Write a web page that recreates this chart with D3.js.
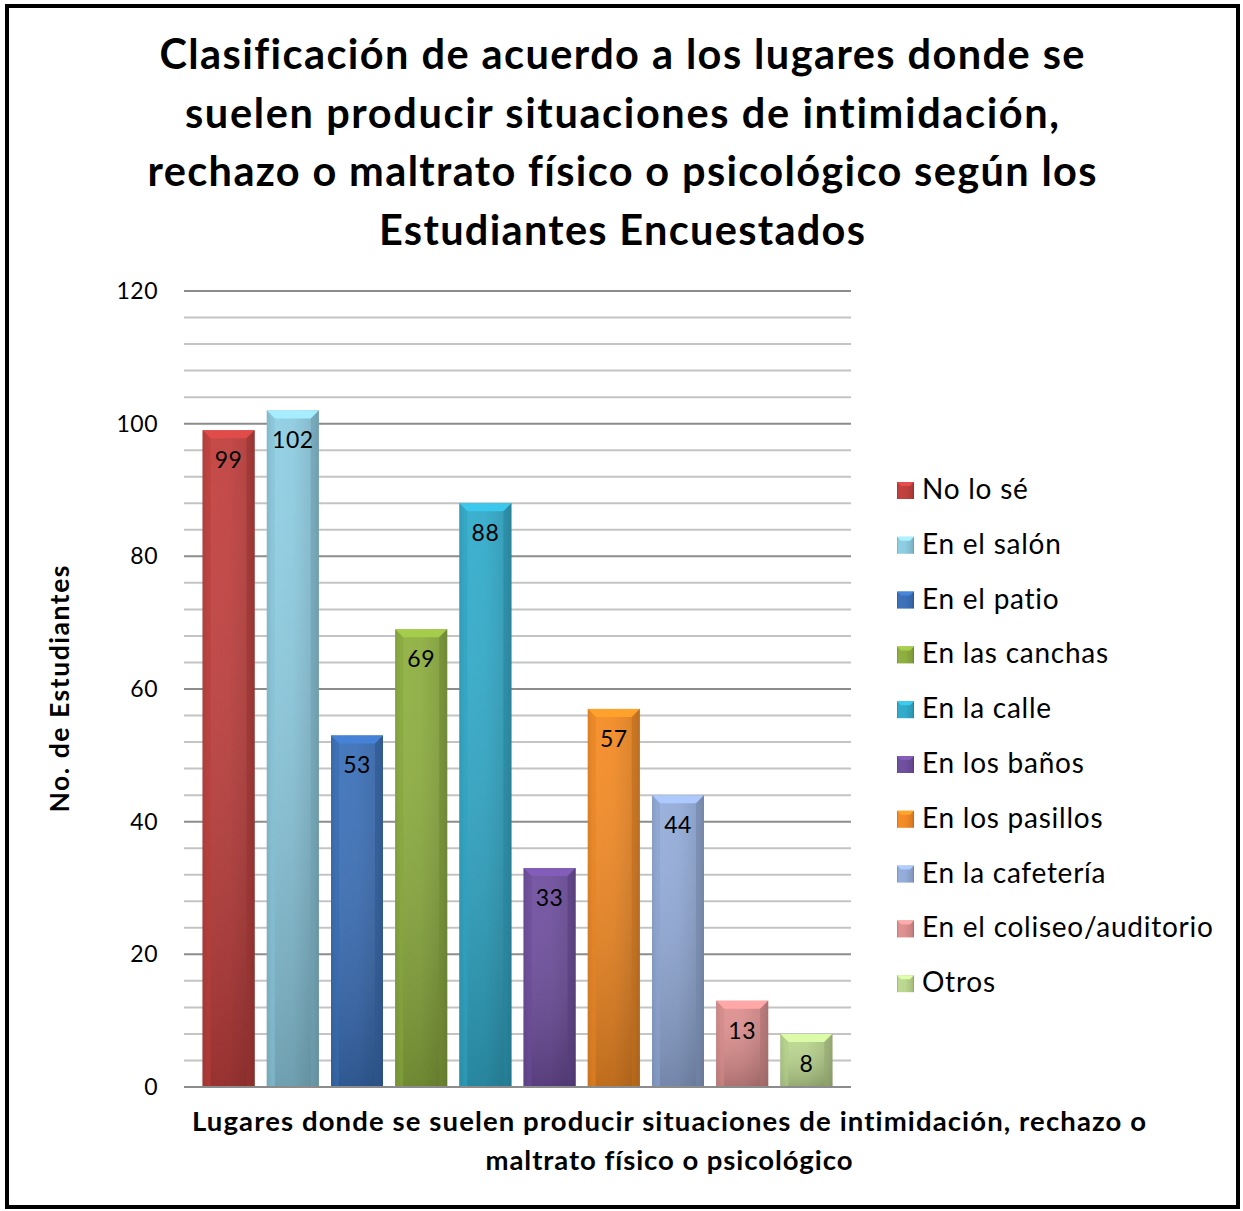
<!DOCTYPE html>
<html><head><meta charset="utf-8">
<script src="https://cdn.jsdelivr.net/npm/d3@7"></script>
<style>body{margin:0;background:#fff}svg{display:block}text{font-family:Lato,"Open Sans",sans-serif;font-variant-ligatures:none}</style>
</head><body>
<script>
const categories = ["No lo sé","En el salón","En el patio","En las canchas","En la calle","En los baños","En los pasillos","En la cafetería","En el coliseo/auditorio","Otros"];
const values = [99,102,53,69,88,33,57,44,13,8];
const colors = ["#C0403E","#8DCBE0","#3C70B8","#8DAE40","#32AAC9","#6F4F9E","#F28A25","#93ABD8","#DC8F8E","#BBD68F"];
const yTicks = [0,20,40,60,80,100,120];
const titleLines = ["Clasificación de acuerdo a los lugares donde se","suelen producir situaciones de intimidación,","rechazo o maltrato físico o psicológico según los","Estudiantes Encuestados"];
const xTitleLines = ["Lugares donde se suelen producir situaciones de intimidación, rechazo o","maltrato físico o psicológico"];
const yTitle = "No. de Estudiantes";

const W=1243,H=1211;
const svg=d3.select("body").append("svg").attr("width",W).attr("height",H);
const defs=svg.append("defs");
svg.append("rect").attr("x",7).attr("y",6).attr("width",1231).attr("height",1201).attr("fill","#fff").attr("stroke","#000").attr("stroke-width",4);

const x=d3.scaleBand().domain(categories).range([184,851]).paddingInner(0.19).paddingOuter(0.29);
const y=d3.scaleLinear().domain([0,120]).range([1087,291]);

const minor=d3.range(0,121,4);
svg.append("g").selectAll("line").data(minor).join("line")
 .attr("x1",184).attr("x2",851).attr("y1",d=>y(d)).attr("y2",d=>y(d))
 .attr("stroke",d=>d%20===0?"#8C8C8C":"#C4C4C4").attr("stroke-width",2);

const ax=svg.append("g").attr("transform","translate(184,0)").call(d3.axisLeft(y).tickValues(yTicks).tickSize(0).tickPadding(26));
ax.select(".domain").remove();
ax.selectAll("text").attr("font-size",23).attr("letter-spacing",0.5).attr("fill","#000").attr("font-family","Lato,sans-serif");

colors.forEach((c,i)=>{
  const base=d3.color(c);
  const g=defs.append("linearGradient").attr("id","gh"+i).attr("x1",0).attr("x2",1).attr("y1",0).attr("y2",0);
  g.append("stop").attr("offset",0).attr("stop-color",base.darker(0.5));
  g.append("stop").attr("offset",0.1).attr("stop-color",base.brighter(0.05));
  g.append("stop").attr("offset",0.5).attr("stop-color",base);
  g.append("stop").attr("offset",0.9).attr("stop-color",base.darker(0.3));
  g.append("stop").attr("offset",1).attr("stop-color",base.darker(0.8));
  const v=defs.append("linearGradient").attr("id","gv"+i).attr("x1",0).attr("x2",0).attr("y1",0).attr("y2",1);
  v.append("stop").attr("offset",0).attr("stop-color","#fff").attr("stop-opacity",0.05);
  v.append("stop").attr("offset",1).attr("stop-color","#000").attr("stop-opacity",0.22);
});

const bars=svg.append("g").selectAll("g").data(categories).join("g");
const bev=8;
bars.append("rect").attr("x",d=>x(d)).attr("y",(d,i)=>y(values[i])).attr("width",x.bandwidth()).attr("height",(d,i)=>y(0)-y(values[i]))
 .attr("fill",(d,i)=>`url(#gh${i})`);
bars.append("rect").attr("x",d=>x(d)).attr("y",(d,i)=>y(values[i])).attr("width",x.bandwidth()).attr("height",(d,i)=>y(0)-y(values[i]))
 .attr("fill",(d,i)=>`url(#gv${i})`);
bars.append("path").attr("d",(d,i)=>{const x0=x(d),x1=x0+x.bandwidth(),t=y(values[i]);return `M${x0},${t}L${x1},${t}L${x1-bev},${t+bev}L${x0+bev},${t+bev}Z`;})
 .attr("fill",(d,i)=>d3.color(colors[i]).brighter(0.45));
bars.append("path").attr("d",(d,i)=>{const x0=x(d),t=y(values[i]);return `M${x0},${t}L${x0+bev},${t+bev}L${x0+bev},${y(0)}L${x0},${y(0)}Z`;})
 .attr("fill",(d,i)=>d3.color(colors[i]).darker(0.15)).attr("opacity",0.6);
bars.append("path").attr("d",(d,i)=>{const x1=x(d)+x.bandwidth(),t=y(values[i]);return `M${x1},${t}L${x1-bev},${t+bev}L${x1-bev},${y(0)}L${x1},${y(0)}Z`;})
 .attr("fill",(d,i)=>d3.color(colors[i]).darker(0.7)).attr("opacity",0.6);
bars.append("text").attr("x",d=>x(d)+x.bandwidth()/2).attr("y",(d,i)=>y(values[i])+38)
 .attr("text-anchor","middle").attr("font-size",23).attr("letter-spacing",0.5).text((d,i)=>values[i]);

svg.append("line").attr("x1",184).attr("x2",851).attr("y1",y(0)).attr("y2",y(0)).attr("stroke","#8C8C8C").attr("stroke-width",2);

const titleW=[925,874,949,486];
svg.append("g").selectAll("text").data(titleLines).join("text")
 .attr("x",622).attr("y",(d,i)=>69+i*58.7).attr("text-anchor","middle").attr("font-size",41.5).attr("font-weight","bold")
 .attr("textLength",(d,i)=>titleW[i]).attr("lengthAdjust","spacing").text(d=>d);

const xTitleW=[954,367];
svg.append("g").selectAll("text").data(xTitleLines).join("text")
 .attr("x",669).attr("y",(d,i)=>1131+i*39).attr("text-anchor","middle").attr("font-size",27.5).attr("font-weight","bold")
 .attr("textLength",(d,i)=>xTitleW[i]).attr("lengthAdjust","spacing").text(d=>d);

svg.append("text").attr("transform","translate(69,689) rotate(-90)").attr("text-anchor","middle").attr("font-size",26.5).attr("font-weight","bold")
 .attr("textLength",247).attr("lengthAdjust","spacing").text(yTitle);

const leg=svg.append("g").selectAll("g").data(categories).join("g").attr("transform",(d,i)=>`translate(897,${490+i*54.8})`);
leg.append("rect").attr("x",0).attr("y",-8).attr("width",17).attr("height",17).attr("fill",(d,i)=>`url(#gh${i})`);
leg.append("path").attr("d","M0,-8L17,-8L13,-4L4,-4Z").attr("fill",(d,i)=>d3.color(colors[i]).brighter(0.5));
leg.append("text").attr("x",25).attr("y",9).attr("font-size",28).attr("letter-spacing",0.75).text(d=>d);
</script>
</body></html>
